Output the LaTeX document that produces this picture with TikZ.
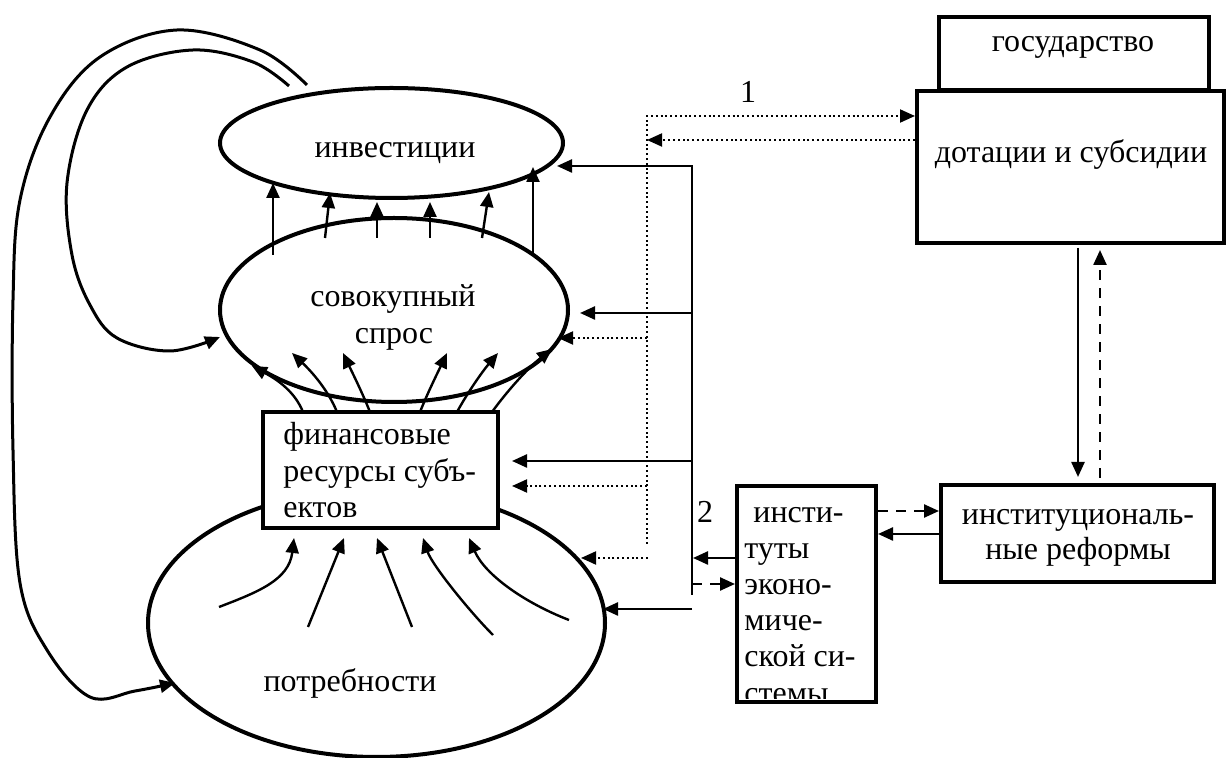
\documentclass[tikz,border=0pt]{standalone}
\usepackage{fontspec}
\setmainfont{Liberation Serif}
\usetikzlibrary{arrows.meta,shapes.geometric}
\begin{document}
\begin{tikzpicture}[x=0.5pt,y=-0.5pt,
  >={Triangle[length=7.5pt,width=6.5pt]},
  ell/.style={ellipse, draw, line width=2pt, inner sep=0pt},
  boxx/.style={rectangle, draw, line width=2pt, fill=white, inner sep=0pt},
  arr/.style={line width=1.2pt, ->},
  loopl/.style={line width=1.5pt, ->},
  dotl/.style={line width=1pt, dash pattern=on 1pt off 1.4pt},
  dashl/.style={line width=1.2pt, dash pattern=on 5pt off 4pt},
  txt/.style={font=\fontsize{16}{18}\selectfont, inner sep=0pt}]
\useasboundingbox (0,0) rectangle (1227,758);

% ellipses and boxes
\node[ell, minimum width=171.5pt, minimum height=55pt] (inv) at (391.5,143) {};
\node[ell, minimum width=174pt, minimum height=92pt] (dem) at (394,310) {};
\node[ell, minimum width=228.5pt, minimum height=134pt] (need) at (376.5,623) {};
\node[boxx, minimum width=117.5pt, minimum height=58pt] (fin) at (380.5,470) {};
\node[boxx, minimum width=135pt, minimum height=36.5pt] (gos) at (1074,53.5) {};
\node[boxx, minimum width=153.5pt, minimum height=76pt] (dot) at (1070.5,167) {};
\node[boxx, minimum width=69.5pt, minimum height=108pt] (inst) at (806.5,594) {};
\node[boxx, minimum width=136.5pt, minimum height=48.5pt] (ref) at (1077.5,533.5) {};

% texts
\node[txt, anchor=base] (tinv) at (395,158) {инвестиции};
\node[txt, anchor=base] (tdem1) at (393,307) {совокупный};
\node[txt, anchor=base] (tdem2) at (394,344) {спрос};
\node[txt, anchor=base west] (tfin1) at (283,445) {финансовые};
\node[txt, anchor=base west] (tfin2) at (283,482) {ресурсы субъ-};
\node[txt, anchor=base west] (tfin3) at (283,518) {ектов};
\node[txt, anchor=base] (tneed) at (350,692) {потребности};
\node[txt, anchor=base] (tgos) at (1073,52) {государство};
\node[txt, anchor=base] (tdot) at (1071,163) {дотации и субсидии};
\node[txt, anchor=base] (tref1) at (1078,525) {институциональ-};
\node[txt, anchor=base] (tref2) at (1078,560) {ные реформы};
\node[txt, anchor=base] (lab1) at (748,103) {1};
\node[txt, anchor=base] (lab2) at (705,523) {2};
\begin{scope}
\clip (739,488) rectangle (874,699);
\node[txt, anchor=base west] (ti1) at (753,523) {инсти-};
\node[txt, anchor=base west] (ti2) at (744,559) {туты};
\node[txt, anchor=base west] (ti3) at (744,595) {эконо-};
\node[txt, anchor=base west] (ti4) at (744,631) {миче-};
\node[txt, anchor=base west] (ti5) at (744,667) {ской си-};
\node[txt, anchor=base west] (ti6) at (744,704) {стемы};
\end{scope}

% demand -> investment
\draw[arr] (273,255) -- (273,183);
\draw[arr] (325,238) -- (330,193);
\draw[arr] (377,238) -- (377,202);
\draw[arr] (430,238) -- (430,202);
\draw[arr] (482,238) -- (489,192);
\draw[arr] (533,253) -- (533,167);

% finance -> demand
\draw[arr] (303,412) .. controls (295,392) and (278,380) .. (252,366);
\draw[arr] (337,412) .. controls (328,390) and (312,372) .. (292,353);
\draw[arr] (370,412) .. controls (362,392) and (352,372) .. (343,353);
\draw[arr] (420,412) .. controls (428,392) and (438,372) .. (447,353);
\draw[arr] (457,412) .. controls (468,392) and (482,372) .. (498,353);
\draw[arr] (492,412) .. controls (508,390) and (528,368) .. (552,349);

% needs -> finance
\draw[arr] (219,607) .. controls (258,592) and (289,580) .. (294,538);
\draw[arr] (308,627) -- (344,538);
\draw[arr] (412,627) -- (377,538);
\draw[arr] (493,635) .. controls (470,612) and (432,565) .. (423,538);
\draw[arr] (569,620) .. controls (525,603) and (485,575) .. (469,538);

% big loops
\draw[loopl] plot[smooth, tension=0.6] coordinates {(307,85) (260,50) (177,30) (100,57) (50,117) (20,200) (13,300) (13,450) (20,583) (47,650) (90,697) (135,691) (175,683)};
\draw[loopl] plot[smooth, tension=0.6] coordinates {(289,86) (253,62) (193,50) (127,67) (87,110) (67,183) (72,255) (90,305) (117,338) (170,351) (220,337)};

% dotted trunk (1)
\coordinate (dv1) at (647,116);
\coordinate (dv2) at (647,544);
\draw[dotl,->] (dv2) -- (dv1) -- (dot.west |- dv1);
\draw[dotl,->] (dot.west |- 0,140) -- (647,140);
\draw[dotl,->] (647,338) -- (558,338);
\draw[dotl,->] (647,486) -- (512,486);
\draw[dotl,->] (648,558) -- (581,558);

% solid trunk (2)
\coordinate (sv1) at (692,166);
\coordinate (sv2) at (692,595);
\draw[arr] (sv2) -- (sv1) -- (557,166);
\draw[arr] (692,313) -- (580,313);
\draw[arr] (692,461) -- (512,461);
\draw[arr] (692,609) -- (603,609);
\draw[arr] (inst.west |- 0,558) -- (693,558);
\draw[dashl,->] (692,584) -- (inst.west |- 0,584);

% institutions <-> reforms
\draw[dashl,->] (inst.east |- 0,511) -- (ref.west |- 0,511);
\draw[arr] (ref.west |- 0,534) -- (inst.east |- 0,534);

% subsidies <-> reforms
\draw[arr] (1078,248) -- (1078,477);
\draw[dashl,->] (1100,478) -- (1100,250);
\end{tikzpicture}
\end{document}
